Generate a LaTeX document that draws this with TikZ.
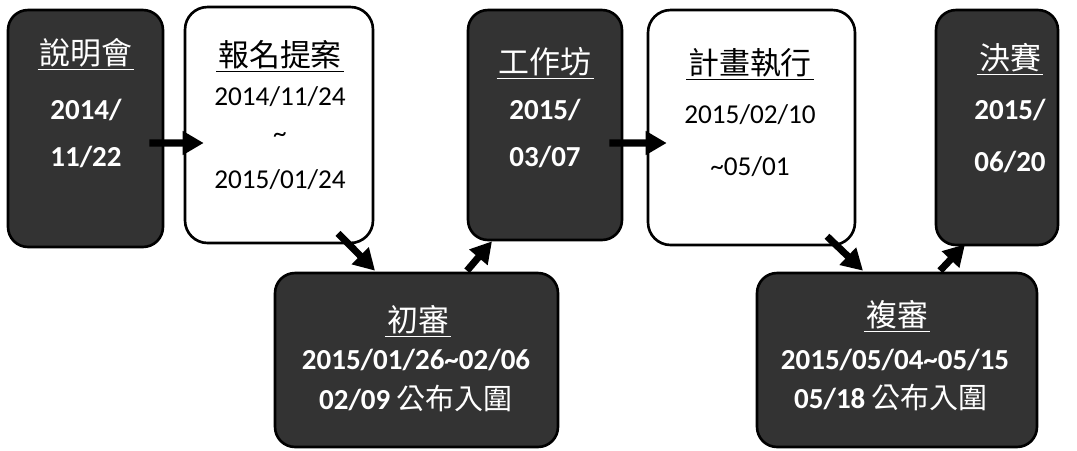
\documentclass[tikz,border=0pt]{standalone}
\usepackage{fontspec}
\setmainfont{Carlito}
\newfontfamily\cjk{Noto Sans CJK TC}
\usetikzlibrary{arrows.meta}

\begin{document}
\begin{tikzpicture}[x=0.02cm,y=-0.02cm,
  darkbox/.style={draw=black,line width=1.5pt,fill=black!80,rounded corners=0.4cm},
  lightbox/.style={draw=black,line width=1.5pt,fill=white,rounded corners=0.45cm},
  title/.style={font=\cjk\fontsize{17.6}{20}\selectfont,inner sep=1pt},
  date/.style={font=\fontsize{15.5}{18}\selectfont,inner sep=0pt},
  bigdate/.style={font=\bfseries\fontsize{16.5}{18}\selectfont,inner sep=0pt},
  ondark/.style={text=white},
  flow/.style={line width=4pt,-{Triangle[length=12pt,width=13pt]}}]
  \useasboundingbox (0,0) rectangle (1077,450);

  %top row
  \node[darkbox,minimum width=3.1cm,minimum height=4.74cm] (meet) at (85.5,128.5) {};
  \node[title,ondark] (meett) at (86,53) {說明會};
  \node[bigdate,ondark] at (86,110) {2014/};
  \node[bigdate,ondark] at (86,157) {11/22};

  \node[lightbox,minimum width=3.76cm,minimum height=4.72cm] (apply) at (279,125) {};
  \node[title] (applyt) at (280,55) {報名提案};
  \node[date] at (280,97) {2014/11/24};
  \node[date] at (280,138) {\textasciitilde};
  \node[date] at (280,180) {2015/01/24};

  \node[darkbox,minimum width=3.08cm,minimum height=4.6cm] (work) at (545,125) {};
  \node[title,ondark] (workt) at (545,62) {工作坊};
  \node[bigdate,ondark] at (545,110) {2015/};
  \node[bigdate,ondark] at (545,157) {03/07};

  \node[lightbox,minimum width=4.14cm,minimum height=4.7cm] (plan) at (751.5,127.5) {};
  \node[title] (plant) at (750,63) {計畫執行};
  \node[date] at (750,115) {2015/02/10};
  \node[date] at (750,167) {\textasciitilde05/01};

  \node[darkbox,minimum width=2.44cm,minimum height=4.7cm] (final) at (997,127.5) {};
  \node[title,ondark] (finalt) at (1010,58) {決賽};
  \node[bigdate,ondark] at (1010,110) {2015/};
  \node[bigdate,ondark] at (1010,162) {06/20};

  %bottom row
  \node[darkbox,minimum width=5.66cm,minimum height=3.48cm] (first) at (416.5,360) {};
  \node[title,ondark] (firstt) at (418,320) {初審};
  \node[bigdate,ondark] at (416,360) {2015/01/26\textasciitilde02/06};
  \node[bigdate,ondark] at (416,398) {02/09 {\cjk\mdseries 公布入圍}};

  \node[darkbox,minimum width=5.6cm,minimum height=3.48cm] (second) at (897,360) {};
  \node[title,ondark] (secondt) at (897,315) {複審};
  \node[bigdate,ondark] at (895,360) {2015/05/04\textasciitilde05/15};
  \node[bigdate,ondark] at (891,397) {05/18 {\cjk\mdseries 公布入圍}};

  %underlines
  \foreach \t/\c in {meett/white,applyt/black,workt/white,plant/black,finalt/white,firstt/white,secondt/white}
    \draw[\c,line width=1pt] (\t.south west) -- (\t.south east);

  %arrows
  \draw[flow] ([shift={(-15,14.5)}]meet.east) -- ([shift={(20,18)}]apply.west);
  \draw[flow] ([shift={(-14,18)}]work.east) -- ([shift={(20,15.5)}]plan.west);
  \draw[flow] ([shift={(59,-11)}]apply.south) -- ([shift={(-41.5,-1)}]first.north);
  \draw[flow] ([shift={(50.5,-1)}]first.north) -- ([shift={(-53,0)}]work.south);
  \draw[flow] ([shift={(75.5,-10)}]plan.south) -- ([shift={(-34,-1)}]second.north);
  \draw[flow] ([shift={(43,-1)}]second.north) -- ([shift={(-32,-2)}]final.south);
\end{tikzpicture}
\end{document}
